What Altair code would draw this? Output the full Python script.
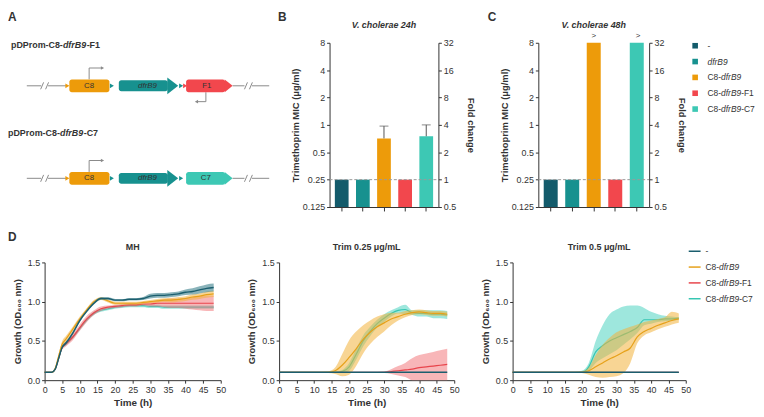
import altair as alt
import pandas as pd

# ---------------------------------------------------------------- data
# MIC panels (B, C)
mic_strains = ["-", "dfrB9", "C8-dfrB9", "C8-dfrB9-F1", "C8-dfrB9-C7"]
mic_label_parts = [["-", "", ""], ["", "dfrB9", ""], ["C8-", "dfrB9", ""], ["C8-", "dfrB9", "-F1"], ["C8-", "dfrB9", "-C7"]]
mic_colors = ["#135b6b", "#17918f", "#ed9b0a", "#f2474d", "#3dc8b4"]
mic_24h = [0.25, 0.25, 0.71, 0.25, 0.75]
mic_24h_upper = [0.25, 0.25, 0.97, 0.25, 1.0]
mic_24h_flag = ["", "", "", "", ""]
mic_48h = [0.25, 0.25, 8.0, 0.25, 8.0]
mic_48h_upper = [0.25, 0.25, 8.0, 0.25, 8.0]
mic_48h_flag = ["", "", ">", "", ">"]
mic_ticks = [0.125, 0.25, 0.5, 1, 2, 4, 8]
fold_ticks = [0.5, 1, 2, 4, 8, 16, 32]

# growth curves (D)
T = [0, 2, 3, 4, 5, 6, 8, 10, 12, 14, 16, 18, 20, 22, 24, 26, 28, 30, 32, 34, 36, 38, 40, 42, 44, 46, 48]
growth_series = ["-", "C8-dfrB9", "C8-dfrB9-F1", "C8-dfrB9-C7"]
growth_label_parts = [["-", "", ""], ["C8-", "dfrB9", ""], ["C8-", "dfrB9", "-F1"], ["C8-", "dfrB9", "-C7"]]
growth_line_colors = ["#1b5e6e", "#e6a11a", "#e8454c", "#36c6b2"]
growth_band_colors = ["#2a7482", "#f3b23c", "#f27a7e", "#4fd4c1"]

mh_none_mean = [0.10, 0.10, 0.14, 0.28, 0.42, 0.47, 0.60, 0.76, 0.88, 0.98, 1.04, 1.04, 1.02, 1.02, 1.03, 1.03, 1.04, 1.07, 1.08, 1.08, 1.09, 1.10, 1.12, 1.13, 1.15, 1.17, 1.18]
mh_none_err = [0.005, 0.005, 0.01, 0.02, 0.02, 0.02, 0.02, 0.02, 0.015, 0.015, 0.015, 0.015, 0.015, 0.015, 0.015, 0.015, 0.02, 0.03, 0.03, 0.03, 0.03, 0.03, 0.035, 0.04, 0.045, 0.05, 0.05]
mh_c8_mean = [0.10, 0.10, 0.15, 0.31, 0.46, 0.52, 0.65, 0.78, 0.90, 1.00, 1.04, 1.01, 0.98, 0.98, 0.98, 0.98, 0.99, 1.00, 1.01, 1.02, 1.02, 1.03, 1.04, 1.06, 1.07, 1.09, 1.10]
mh_c8_err = [0.005, 0.005, 0.01, 0.03, 0.04, 0.04, 0.03, 0.03, 0.02, 0.02, 0.02, 0.02, 0.02, 0.02, 0.02, 0.02, 0.02, 0.02, 0.025, 0.025, 0.03, 0.03, 0.03, 0.035, 0.035, 0.04, 0.04]
mh_f1_mean = [0.10, 0.10, 0.14, 0.28, 0.42, 0.46, 0.55, 0.67, 0.78, 0.86, 0.91, 0.93, 0.94, 0.95, 0.96, 0.96, 0.97, 0.97, 0.98, 0.98, 0.98, 0.98, 0.98, 0.98, 0.98, 0.98, 0.98]
mh_f1_err = [0.005, 0.005, 0.01, 0.02, 0.03, 0.03, 0.04, 0.04, 0.04, 0.03, 0.03, 0.02, 0.02, 0.02, 0.02, 0.02, 0.02, 0.03, 0.04, 0.05, 0.06, 0.06, 0.07, 0.08, 0.09, 0.10, 0.10]
mh_c7_mean = [0.10, 0.10, 0.14, 0.28, 0.42, 0.46, 0.55, 0.66, 0.77, 0.85, 0.89, 0.91, 0.93, 0.94, 0.95, 0.95, 0.95, 0.94, 0.94, 0.93, 0.93, 0.93, 0.93, 0.93, 0.93, 0.93, 0.93]
mh_c7_err = [0.005, 0.005, 0.01, 0.02, 0.02, 0.02, 0.02, 0.02, 0.02, 0.02, 0.02, 0.02, 0.02, 0.02, 0.02, 0.02, 0.02, 0.02, 0.02, 0.02, 0.02, 0.02, 0.02, 0.02, 0.02, 0.02, 0.02]

t25_none_mean = [0.10, 0.10, 0.10, 0.10, 0.10, 0.10, 0.10, 0.10, 0.10, 0.10, 0.10, 0.10, 0.10, 0.10, 0.10, 0.10, 0.10, 0.10, 0.10, 0.10, 0.10, 0.10, 0.10, 0.10, 0.10, 0.10, 0.10]
t25_none_err = [0.005, 0.005, 0.005, 0.005, 0.005, 0.005, 0.005, 0.005, 0.005, 0.005, 0.005, 0.005, 0.005, 0.005, 0.005, 0.005, 0.005, 0.005, 0.005, 0.005, 0.005, 0.005, 0.005, 0.005, 0.005, 0.005, 0.005]
t25_c8_mean = [0.10, 0.10, 0.10, 0.10, 0.10, 0.10, 0.10, 0.10, 0.10, 0.10, 0.12, 0.19, 0.29, 0.40, 0.52, 0.61, 0.68, 0.73, 0.78, 0.81, 0.84, 0.86, 0.87, 0.86, 0.85, 0.85, 0.84]
t25_c8_err = [0.005, 0.005, 0.005, 0.005, 0.005, 0.005, 0.005, 0.005, 0.005, 0.01, 0.04, 0.14, 0.22, 0.22, 0.18, 0.15, 0.13, 0.11, 0.08, 0.05, 0.04, 0.03, 0.03, 0.03, 0.03, 0.03, 0.03]
t25_f1_mean = [0.10, 0.10, 0.10, 0.10, 0.10, 0.10, 0.10, 0.10, 0.10, 0.10, 0.10, 0.10, 0.10, 0.10, 0.10, 0.10, 0.10, 0.10, 0.11, 0.12, 0.13, 0.14, 0.16, 0.17, 0.18, 0.19, 0.20]
t25_f1_err = [0.005, 0.005, 0.005, 0.005, 0.005, 0.005, 0.005, 0.005, 0.005, 0.005, 0.005, 0.005, 0.005, 0.005, 0.005, 0.005, 0.005, 0.01, 0.03, 0.06, 0.09, 0.14, 0.16, 0.17, 0.18, 0.19, 0.20]
t25_c7_mean = [0.10, 0.10, 0.10, 0.10, 0.10, 0.10, 0.10, 0.10, 0.10, 0.10, 0.10, 0.11, 0.17, 0.33, 0.50, 0.62, 0.72, 0.79, 0.85, 0.89, 0.90, 0.86, 0.85, 0.85, 0.84, 0.84, 0.83]
t25_c7_err = [0.005, 0.005, 0.005, 0.005, 0.005, 0.005, 0.005, 0.005, 0.005, 0.005, 0.005, 0.02, 0.05, 0.07, 0.07, 0.06, 0.05, 0.05, 0.04, 0.04, 0.06, 0.03, 0.04, 0.04, 0.05, 0.05, 0.05]

t5_none_mean = [0.10, 0.10, 0.10, 0.10, 0.10, 0.10, 0.10, 0.10, 0.10, 0.10, 0.10, 0.10, 0.10, 0.10, 0.10, 0.10, 0.10, 0.10, 0.10, 0.10, 0.10, 0.10, 0.10, 0.10, 0.10, 0.10, 0.10]
t5_none_lo = [0.095, 0.095, 0.095, 0.095, 0.095, 0.095, 0.095, 0.095, 0.095, 0.095, 0.095, 0.095, 0.095, 0.095, 0.095, 0.095, 0.095, 0.095, 0.095, 0.095, 0.095, 0.095, 0.095, 0.095, 0.095, 0.095, 0.095]
t5_none_hi = [0.105, 0.105, 0.105, 0.105, 0.105, 0.105, 0.105, 0.105, 0.105, 0.105, 0.105, 0.105, 0.105, 0.105, 0.105, 0.105, 0.105, 0.105, 0.105, 0.105, 0.105, 0.105, 0.105, 0.105, 0.105, 0.105, 0.105]
t5_c8_mean = [0.10, 0.10, 0.10, 0.10, 0.10, 0.10, 0.10, 0.10, 0.10, 0.10, 0.10, 0.10, 0.10, 0.12, 0.17, 0.22, 0.27, 0.31, 0.36, 0.41, 0.55, 0.62, 0.66, 0.70, 0.73, 0.76, 0.78]
t5_c8_lo = [0.095, 0.095, 0.095, 0.095, 0.095, 0.095, 0.095, 0.095, 0.095, 0.095, 0.095, 0.095, 0.09, 0.07, 0.04, 0.03, 0.04, 0.05, 0.09, 0.22, 0.47, 0.57, 0.61, 0.65, 0.68, 0.71, 0.73]
t5_c8_hi = [0.105, 0.105, 0.105, 0.105, 0.105, 0.105, 0.105, 0.105, 0.105, 0.105, 0.105, 0.105, 0.11, 0.16, 0.32, 0.45, 0.54, 0.61, 0.65, 0.68, 0.71, 0.74, 0.76, 0.78, 0.80, 0.87, 0.85]
t5_f1_mean = [0.10, 0.10, 0.10, 0.10, 0.10, 0.10, 0.10, 0.10, 0.10, 0.10, 0.10, 0.10, 0.10, 0.10, 0.10, 0.10, 0.10, 0.10, 0.10, 0.10, 0.10, 0.10, 0.10, 0.10, 0.10, 0.10, 0.10]
t5_f1_lo = [0.095, 0.095, 0.095, 0.095, 0.095, 0.095, 0.095, 0.095, 0.095, 0.095, 0.095, 0.095, 0.095, 0.095, 0.095, 0.095, 0.095, 0.095, 0.095, 0.095, 0.095, 0.095, 0.095, 0.095, 0.095, 0.095, 0.095]
t5_f1_hi = [0.105, 0.105, 0.105, 0.105, 0.105, 0.105, 0.105, 0.105, 0.105, 0.105, 0.105, 0.105, 0.105, 0.105, 0.105, 0.105, 0.105, 0.105, 0.105, 0.105, 0.105, 0.105, 0.105, 0.105, 0.105, 0.105, 0.105]
t5_c7_mean = [0.10, 0.10, 0.10, 0.10, 0.10, 0.10, 0.10, 0.10, 0.10, 0.10, 0.10, 0.10, 0.10, 0.17, 0.36, 0.44, 0.50, 0.54, 0.58, 0.62, 0.67, 0.77, 0.77, 0.77, 0.78, 0.78, 0.79]
t5_c7_lo = [0.095, 0.095, 0.095, 0.095, 0.095, 0.095, 0.095, 0.095, 0.095, 0.095, 0.095, 0.095, 0.09, 0.12, 0.22, 0.28, 0.33, 0.38, 0.45, 0.52, 0.60, 0.70, 0.72, 0.74, 0.75, 0.76, 0.77]
t5_c7_hi = [0.105, 0.105, 0.105, 0.105, 0.105, 0.105, 0.105, 0.105, 0.105, 0.105, 0.105, 0.105, 0.12, 0.22, 0.50, 0.70, 0.84, 0.90, 0.94, 0.95, 0.95, 0.92, 0.87, 0.84, 0.82, 0.81, 0.80]

# construct maps (A), positions in figure pixels
header_parts = [["pDProm-C8-", "dfrB9", "-F1"], ["pDProm-C8-", "dfrB9", "-C7"]]
header_x = [11, 8]
header_y = [43, 132]
row_y = [84.5, 178.0]
gene_names = ["C8", "dfrB9", "F1", "C8", "dfrB9", "C7"]
gene_row = [0, 0, 0, 1, 1, 1]
gene_start = [70, 120, 188, 70, 120, 188]
gene_tip = [110, 169, 227, 110, 169, 227]
gene_end = [110, 180, 235, 110, 180, 235]
gene_body = [6.5, 5.5, 6.5, 6.5, 5.5, 6.5]
gene_head = [6.5, 8.5, 6.5, 6.5, 8.5, 6.5]
gene_label_x = [90, 149, 209, 90, 149, 208]
gene_colors = ["#ed9b0a", "#17918f", "#f2474d", "#ed9b0a", "#17918f", "#3dc8b4"]
site_x = [68, 113, 183, 187, 68, 113, 183]
site_row = [0, 0, 0, 0, 1, 1, 1]
site_colors = ["#ed9b0a", "#17918f", "#17918f", "#f2474d", "#ed9b0a", "#17918f", "#17918f"]
backbone_x1 = [27, 48.5, 235, 254.5]
backbone_x2 = [41.5, 67, 247, 272]
break_x = [42.5, 47.5, 248.5, 253.5]

# ---------------------------------------------------------------- layout
W, H = 756, 401
PAGE = 8
FONT = "Liberation Sans"
INK = "#333333"
GREY = "#8a8a8a"
LEG_FS = 8.5

# Arial / Liberation Sans advance widths (em units) for the legend glyphs
REG_W = {"-": 0.333, "C": 0.722, "8": 0.556, "d": 0.556, "f": 0.278, "r": 0.333, "B": 0.667,
         "9": 0.556, "F": 0.611, "1": 0.556, "7": 0.556}


def text_w(s, fs):
    return sum(REG_W.get(ch, 0.556) for ch in s) * fs


def vx(x):
    return x - PAGE


def vy(y):
    return y - PAGE


def pix_x():
    return alt.Scale(domain=[PAGE, PAGE + W], range=[0, W], nice=False, zero=False)


def pix_y():
    return alt.Scale(domain=[PAGE, PAGE + H], range=[0, H], nice=False, zero=False)


def label(text, x, y, size=9, weight="bold", style="normal", align="center", baseline="middle", color=INK):
    return alt.Chart(pd.DataFrame({"d": [0]})).mark_text(
        text=text, fontSize=size, fontWeight=weight, fontStyle=style, align=align,
        baseline=baseline, color=color, font=FONT
    ).encode(x=alt.value(vx(x)), y=alt.value(vy(y)))


def legend_layers(cats, parts, colors, y_first, y_last, text_x, symbol):
    """Legend drawn from the category list through a point scale (mixed roman / italic labels)."""
    rows = []
    for c, (pre, it, suf) in zip(cats, parts):
        rows.append({"cat": c, "pre": pre, "it": it, "suf": suf,
                     "x_pre": text_x, "x_it": text_x + text_w(pre, LEG_FS),
                     "x_suf": text_x + text_w(pre, LEG_FS) + text_w(it, LEG_FS)})
    df = pd.DataFrame(rows)

    def ys():
        return alt.Y("cat:N", sort=cats, scale=alt.Scale(type="point", domain=cats, range=[vy(y_first), vy(y_last)],
                                                         padding=0), axis=None)
    out = [alt.Chart(df).mark_point(opacity=1).encode(y=ys())]  # placeholder kept invisible below
    out = []
    col = alt.Color("cat:N", scale=alt.Scale(domain=cats, range=colors), legend=None)
    if symbol == "square":
        out.append(alt.Chart(df).mark_square(size=32, opacity=1).encode(
            x=alt.value(vx(702.5)), y=ys(), color=col))
    else:
        out.append(alt.Chart(df).mark_rule(strokeWidth=1.5).encode(
            x=alt.value(vx(696)), x2=alt.value(vx(708)), y=ys(), color=col))
    for fld, style in [("pre", "normal"), ("it", "italic"), ("suf", "normal")]:
        out.append(alt.Chart(df).mark_text(align="left", baseline="middle", fontSize=LEG_FS, font=FONT, color=INK,
                                           fontStyle=style).encode(
            x=alt.X(f"x_{fld}:Q", scale=pix_x(), axis=None), y=ys(), text=f"{fld}:N"))
    return out


layers = []

# ---------------------------------------------------------------- panel A
seg = {"x1": [], "y1": [], "x2": [], "y2": []}
for yc in row_y:
    for a, b in zip(backbone_x1, backbone_x2):
        seg["x1"].append(a); seg["x2"].append(b); seg["y1"].append(yc); seg["y2"].append(yc)
    for c in break_x:
        seg["x1"].append(c - 1.5); seg["x2"].append(c + 1.5); seg["y1"].append(yc + 3.5); seg["y2"].append(yc - 3.5)
    seg["x1"] += [90, 90]; seg["x2"] += [90, 102]
    seg["y1"] += [yc - 6.5, yc - 18]; seg["y2"] += [yc - 18, yc - 18]
seg["x1"] += [208, 208]; seg["x2"] += [208, 200]
seg["y1"] += [row_y[0] + 6.5, row_y[0] + 16]; seg["y2"] += [row_y[0] + 16, row_y[0] + 16]

layers.append(alt.Chart(pd.DataFrame(seg)).mark_rule(color=GREY, strokeWidth=1).encode(
    x=alt.X("x1:Q", scale=pix_x(), axis=None), x2="x2:Q",
    y=alt.Y("y1:Q", scale=pix_y(), axis=None), y2="y2:Q"))

heads = pd.DataFrame({"x": [103.5, 103.5, 198.5], "y": [row_y[0] - 18, row_y[1] - 18, row_y[0] + 16],
                      "shape": ["triangle-right", "triangle-right", "triangle-left"]})
layers.append(alt.Chart(heads).mark_point(filled=True, size=14, color=GREY, opacity=1).encode(
    x=alt.X("x:Q", scale=pix_x(), axis=None), y=alt.Y("y:Q", scale=pix_y(), axis=None),
    shape=alt.Shape("shape:N", scale=None)))

body = pd.DataFrame({
    "x1": gene_start, "x2": [t + 0.5 for t in gene_tip],
    "y1": [row_y[r] - b for r, b in zip(gene_row, gene_body)],
    "y2": [row_y[r] + b for r, b in zip(gene_row, gene_body)],
    "c": gene_colors})
layers.append(alt.Chart(body).mark_rect(cornerRadius=2.5).encode(
    x=alt.X("x1:Q", scale=pix_x(), axis=None), x2="x2:Q",
    y=alt.Y("y1:Q", scale=pix_y(), axis=None), y2="y2:Q",
    color=alt.Color("c:N", scale=None)))

tip_rows = []
for i in range(len(gene_names)):
    if gene_end[i] > gene_tip[i]:
        a = (gene_end[i] - gene_tip[i]) / (2 * gene_head[i])
        tip_rows.append({"x": (gene_tip[i] + gene_end[i]) / 2, "y": row_y[gene_row[i]],
                         "path": f"M{-a:.3f},-1L{a:.3f},0L{-a:.3f},1Z",
                         "sz": (2 * gene_head[i]) ** 2, "c": gene_colors[i]})
layers.append(alt.Chart(pd.DataFrame(tip_rows)).mark_point(filled=True, opacity=1, strokeWidth=0).encode(
    x=alt.X("x:Q", scale=pix_x(), axis=None), y=alt.Y("y:Q", scale=pix_y(), axis=None),
    shape=alt.Shape("path:N", scale=None), size=alt.Size("sz:Q", scale=None),
    color=alt.Color("c:N", scale=None)))

sites = pd.DataFrame({"x": site_x, "y": [row_y[r] for r in site_row], "c": site_colors})
layers.append(alt.Chart(sites).mark_point(shape="triangle-right", filled=True, size=22, opacity=1).encode(
    x=alt.X("x:Q", scale=pix_x(), axis=None), y=alt.Y("y:Q", scale=pix_y(), axis=None),
    color=alt.Color("c:N", scale=None)))

glab = pd.DataFrame({"x": gene_label_x, "y": [row_y[r] for r in gene_row], "t": gene_names,
                     "it": [n == "dfrB9" for n in gene_names]})
for italic in [False, True]:
    layers.append(alt.Chart(glab).transform_filter(
        "datum.it" if italic else "!datum.it").mark_text(
        fontSize=8, color=INK, font=FONT, fontStyle="italic" if italic else "normal", baseline="middle").encode(
        x=alt.X("x:Q", scale=pix_x(), axis=None), y=alt.Y("y:Q", scale=pix_y(), axis=None), text="t:N"))

for r, parts in enumerate(header_parts):
    x0 = header_x[r]
    offs = [0, 52.5, 76.5]
    for j, p in enumerate(parts):
        layers.append(label(p, x0 + offs[j], header_y[r], size=9, style="italic" if j == 1 else "normal",
                            align="left"))


# ---------------------------------------------------------------- panels B, C
def mic_panel(values, upper, flags, x0, x1, title):
    df = pd.DataFrame({"strain": mic_strains, "mic": values, "upper": upper, "flag": flags})

    def xs(axis=None):
        return alt.X("strain:N", sort=mic_strains,
                     scale=alt.Scale(domain=mic_strains, range=[vx(x0), vx(x1)], paddingInner=0.35, paddingOuter=0.25),
                     axis=axis)

    def ysc():
        return alt.Scale(type="log", base=2, domain=[0.125, 8], range=[vy(207), vy(41)], nice=False)

    out = []
    out.append(alt.Chart(df).mark_bar().encode(
        x=xs(alt.Axis(orient="bottom", offset=vy(207) - H, labels=False, title=None, tickSize=4)),
        y=alt.Y("mic:Q", scale=ysc(), axis=alt.Axis(orient="left", offset=-vx(x0), values=mic_ticks, format="~g",
                                                      title="Trimethoprim MIC (μg/ml)", titlePadding=2)),
        y2=alt.datum(0.125),
        color=alt.Color("strain:N", scale=alt.Scale(domain=mic_strains, range=mic_colors), legend=None)))
    out.append(alt.Chart(df).transform_filter("datum.upper > datum.mic").mark_rule(color="#555555").encode(
        x=xs(), y=alt.Y("mic:Q", scale=ysc(), axis=None), y2="upper:Q"))
    out.append(alt.Chart(df).transform_filter("datum.upper > datum.mic").mark_tick(
        orient="horizontal", size=9, thickness=1, color="#555555").encode(
        x=xs(), y=alt.Y("upper:Q", scale=ysc(), axis=None)))
    out.append(alt.Chart(df).mark_text(dy=-7, fontSize=8, color=INK, font=FONT).encode(
        x=xs(), y=alt.Y("mic:Q", scale=ysc(), axis=None), text="flag:N"))
    out.append(alt.Chart(pd.DataFrame({"d": [0]})).mark_rule(color="#9a9a9a", strokeDash=[3, 2], strokeWidth=1).encode(
        y=alt.YDatum(0.25, scale=ysc(), axis=None), x=alt.value(vx(x0)), x2=alt.value(vx(x1))))
    out.append(alt.Chart(pd.DataFrame({"fold": fold_ticks})).mark_point(opacity=0).encode(
        y=alt.Y("fold:Q", scale=alt.Scale(type="log", base=2, domain=[0.5, 32], range=[vy(207), vy(41)], nice=False),
                axis=alt.Axis(orient="right", offset=vx(x1) - W, values=fold_ticks, format="~g",
                              title="Fold change", titlePadding=10))))
    out.append(label(title, (x0 + x1) / 2, 23, style="italic"))
    return out


layers += mic_panel(mic_24h, mic_24h_upper, mic_24h_flag, 333, 443, "V. cholerae 24h")
layers += mic_panel(mic_48h, mic_48h_upper, mic_48h_flag, 544, 656, "V. cholerae 48h")
layers += legend_layers(mic_strains, mic_label_parts, mic_colors, 44, 108, 715, "square")


# ---------------------------------------------------------------- panel D
def growth_panel(series_data, x0, x1, title):
    def xsc():
        return alt.Scale(domain=[0, 50], range=[vx(x0), vx(x1)], nice=False, zero=False)

    def ysc():
        return alt.Scale(domain=[0, 1.5], range=[vy(382), vy(263)], nice=False, zero=False)

    out = []
    out.append(alt.Chart(pd.DataFrame({"t": [0, 50], "v": [0, 1.5]})).mark_point(opacity=0).encode(
        x=alt.X("t:Q", scale=xsc(), axis=alt.Axis(orient="bottom", offset=vy(382) - H, values=list(range(0, 51, 5)),
                                                    title="Time (h)", titlePadding=4, titleFontSize=10)),
        y=alt.Y("v:Q", scale=ysc(), axis=alt.Axis(orient="left", offset=-vx(x0), values=[0, 0.5, 1.0, 1.5],
                                                    format=".1f", title="Growth (OD₆₀₀ nm)", titlePadding=5))))
    frames = {}
    for s, (m, lo, hi) in series_data.items():
        frames[s] = pd.DataFrame({"t": T, "m": m, "lo": lo, "hi": hi, "s": s})
    for s in ["C8-dfrB9-C7", "C8-dfrB9-F1", "C8-dfrB9", "-"]:
        i = growth_series.index(s)
        out.append(alt.Chart(frames[s]).mark_area(interpolate="monotone", opacity=0.55,
                                                  color=growth_band_colors[i]).encode(
            x=alt.X("t:Q", scale=xsc(), axis=None), y=alt.Y("lo:Q", scale=ysc(), axis=None), y2="hi:Q"))
        out.append(alt.Chart(frames[s]).mark_line(interpolate="monotone", strokeWidth=1.4 if s == "-" else 1.2,
                                                  color=growth_line_colors[i]).encode(
            x=alt.X("t:Q", scale=xsc(), axis=None), y=alt.Y("m:Q", scale=ysc(), axis=None)))
    out.append(label(title, (x0 + x1) / 2, 247))
    return out


def with_err(m, e):
    return (m, [max(0.0, a - b) for a, b in zip(m, e)], [a + b for a, b in zip(m, e)])


mh = {"-": with_err(mh_none_mean, mh_none_err), "C8-dfrB9": with_err(mh_c8_mean, mh_c8_err),
      "C8-dfrB9-F1": with_err(mh_f1_mean, mh_f1_err), "C8-dfrB9-C7": with_err(mh_c7_mean, mh_c7_err)}
t25 = {"-": with_err(t25_none_mean, t25_none_err), "C8-dfrB9": with_err(t25_c8_mean, t25_c8_err),
       "C8-dfrB9-F1": with_err(t25_f1_mean, t25_f1_err), "C8-dfrB9-C7": with_err(t25_c7_mean, t25_c7_err)}
t5 = {"-": (t5_none_mean, t5_none_lo, t5_none_hi), "C8-dfrB9": (t5_c8_mean, t5_c8_lo, t5_c8_hi),
      "C8-dfrB9-F1": (t5_f1_mean, t5_f1_lo, t5_f1_hi), "C8-dfrB9-C7": (t5_c7_mean, t5_c7_lo, t5_c7_hi)}

layers += growth_panel(mh, 45, 223, "MH")
layers += growth_panel(t25, 282, 459, "Trim 0.25 μg/mL")
layers += growth_panel(t5, 518, 693, "Trim 0.5 μg/mL")
layers += legend_layers(growth_series, growth_label_parts, growth_line_colors, 251.7, 299.7, 713, "stroke")

# panel letters
layers.append(label("A", 8, 10, size=12, align="left", baseline="top"))
layers.append(label("B", 281, 10, size=12, align="left", baseline="top"))
layers.append(label("C", 493, 10, size=12, align="left", baseline="top"))
layers.append(label("D", 8, 232, size=12, align="left", baseline="top"))

chart = alt.layer(*layers).properties(
    width=W, height=H, padding=0, autosize=alt.AutoSizeParams(type="none"), background="white"
).resolve_scale(
    x="independent", y="independent", color="independent", shape="independent", size="independent"
).resolve_axis(x="independent", y="independent").configure_view(
    stroke=None
).configure_axis(
    grid=False, labelFont=FONT, labelFontSize=9, labelColor=INK, titleFont=FONT, titleFontSize=9.5,
    titleFontWeight="bold", titleColor=INK, domainColor=INK, tickColor=INK, tickSize=3, labelPadding=2,
    labelFlush=False, domainWidth=1, tickWidth=1
)

chart.save("out.html", embed_options={"renderer": "svg", "actions": False})
